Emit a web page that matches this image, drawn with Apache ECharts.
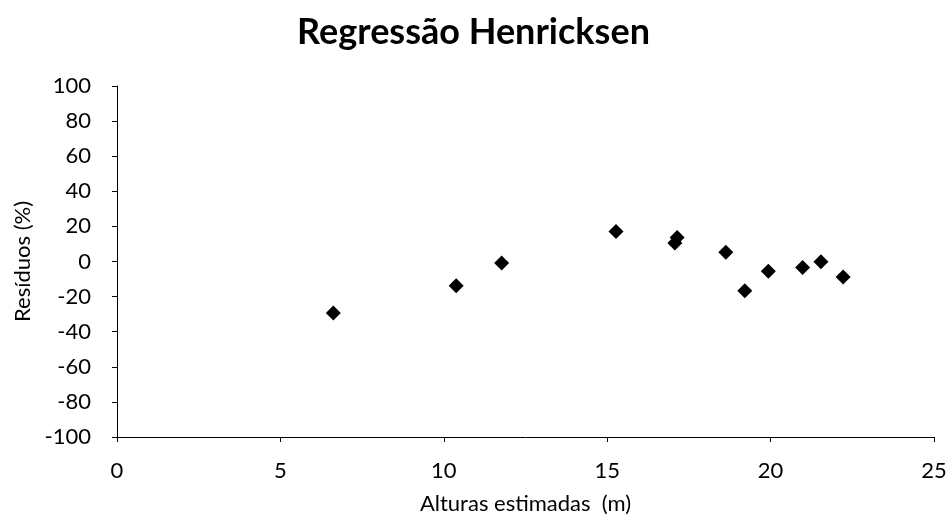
<!DOCTYPE html>
<html><head><meta charset="utf-8">
<script src="https://cdn.jsdelivr.net/npm/echarts@6/dist/echarts.min.js"></script>
<style>html,body{margin:0;padding:0;background:#fff}#c{width:947px;height:522px}</style>
</head><body><div id="c"></div>
<script>
const alturas = [6.62, 10.38, 11.77, 15.27, 17.14, 17.07, 18.63, 19.21, 19.93, 20.98, 21.54, 22.22];
const residuos = [-29.4, -13.8, -0.9, 17.1, 13.7, 10.5, 5.3, -16.7, -5.5, -3.4, -0.2, -8.9];
const titleText = 'Regressão Henricksen';
const xName = 'Alturas estimadas  (m)';
const yName = 'Resíduos (%)';

const font = 'Lato, "Open Sans", sans-serif';
const chart = echarts.init(document.getElementById('c'));
chart.setOption({
  animation: false,
  backgroundColor: '#fff',
  title: {
    text: titleText, left: 'center', top: 9,
    textStyle: {fontFamily: font, fontSize: 36, fontWeight: 'bold', color: '#000'}
  },
  grid: {left: 117, right: 13, top: 86, bottom: 85, containLabel: false, outerBoundsMode: 'none'},
  xAxis: {
    type: 'value', min: 0, max: 25, interval: 5,
    name: xName, nameLocation: 'middle', nameGap: 56,
    nameTextStyle: {fontFamily: font, fontSize: 22, color: '#000'},
    axisLine: {show: true, onZero: false, lineStyle: {color: '#000', width: 1}},
    axisTick: {show: true, length: 5, inside: false, lineStyle: {color: '#000'}},
    axisLabel: {fontFamily: font, fontSize: 22, color: '#000', margin: 23},
    splitLine: {show: false}
  },
  yAxis: {
    type: 'value', min: -100, max: 100, interval: 20,
    name: yName, nameLocation: 'middle', nameGap: 82, nameRotate: 90,
    nameTextStyle: {fontFamily: font, fontSize: 22, color: '#000'},
    axisLine: {show: true, onZero: false, lineStyle: {color: '#000', width: 1}},
    axisTick: {show: true, length: 5, inside: false, lineStyle: {color: '#000'}},
    axisLabel: {fontFamily: font, fontSize: 22, color: '#000', margin: 26},
    splitLine: {show: false}
  },
  series: [{
    type: 'scatter',
    symbol: 'diamond',
    symbolSize: 15,
    itemStyle: {color: '#000', opacity: 1},
    data: alturas.map((x, i) => [x, residuos[i]])
  }]
});
</script></body></html>
